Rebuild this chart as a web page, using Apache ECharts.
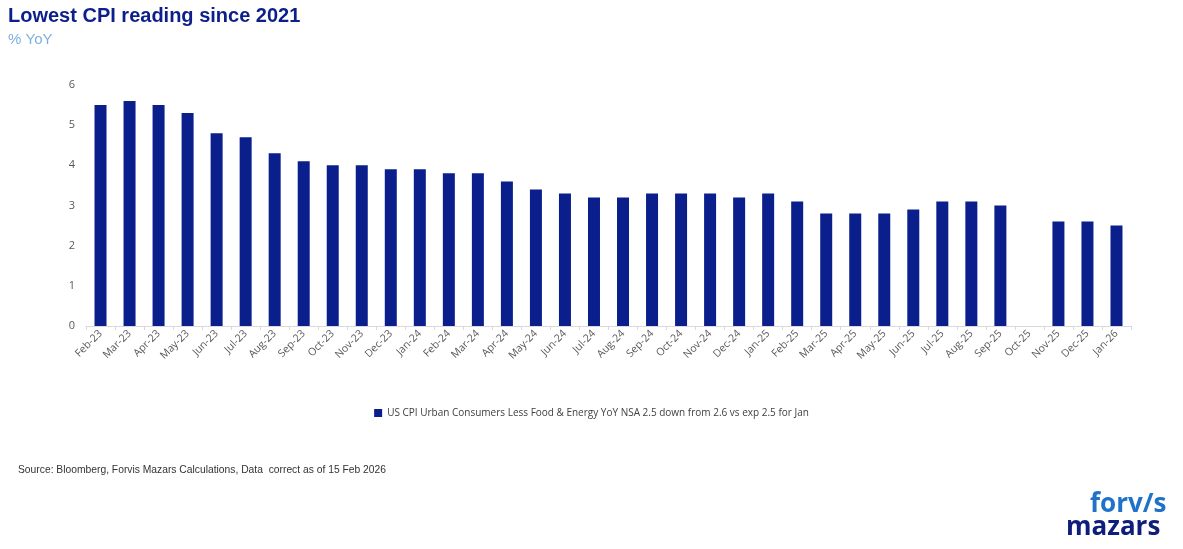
<!DOCTYPE html>
<html><head><meta charset="utf-8">
<script src="https://cdn.jsdelivr.net/npm/echarts@6/dist/echarts.min.js"></script>
<style>html,body{margin:0;padding:0;background:#fff}#c{width:1183px;height:549px}</style>
</head><body><div id="c"></div>
<script>
const categories = ["Feb-23","Mar-23","Apr-23","May-23","Jun-23","Jul-23","Aug-23","Sep-23","Oct-23","Nov-23","Dec-23","Jan-24","Feb-24","Mar-24","Apr-24","May-24","Jun-24","Jul-24","Aug-24","Sep-24","Oct-24","Nov-24","Dec-24","Jan-25","Feb-25","Mar-25","Apr-25","May-25","Jun-25","Jul-25","Aug-25","Sep-25","Oct-25","Nov-25","Dec-25","Jan-26"];
const cpiValues = [5.5,5.6,5.5,5.3,4.8,4.7,4.3,4.1,4.0,4.0,3.9,3.9,3.8,3.8,3.6,3.4,3.3,3.2,3.2,3.3,3.3,3.3,3.2,3.3,3.1,2.8,2.8,2.8,2.9,3.1,3.1,3.0,null,2.6,2.6,2.5];
const seriesName = "US CPI Urban Consumers Less Food & Energy YoY NSA 2.5 down from 2.6 vs exp 2.5 for Jan";
const titleText = "Lowest CPI reading since 2021";
const subtitleText = "% YoY";
const sourceText = "Source: Bloomberg, Forvis Mazars Calculations, Data  correct as of 15 Feb 2026";

const chart = echarts.init(document.getElementById('c'), null, {renderer:'canvas'});
chart.setOption({
  animation:false,
  backgroundColor:'#fff',
  title:{
    text:titleText, subtext:subtitleText, left:8, top:6, itemGap:6, padding:0,
    textStyle:{fontFamily:'Liberation Sans, Arial', fontWeight:'bold', fontSize:20, color:'#0c1f8a'},
    subtextStyle:{fontFamily:'Liberation Sans, Arial', fontSize:15, color:'#7fb0dd'}
  },
  grid:{left:86, right:52, top:85, bottom:223, containLabel:false},
  legend:{
    data:[seriesName], top:403, left:'center', itemWidth:8, itemHeight:8, icon:'rect',
    textStyle:{fontFamily:'Open Sans, Noto Sans', fontSize:10, color:'#404040'}, itemGap:4
  },
  xAxis:{
    type:'category', data:categories,
    axisLine:{lineStyle:{color:'#d9d9d9'}},
    axisTick:{show:true, alignWithLabel:false, length:4, lineStyle:{color:'#d9d9d9'}},
    axisLabel:{rotate:45, interval:0, fontFamily:'Open Sans, Noto Sans', fontSize:10.5, color:'#595959', margin:6}
  },
  yAxis:{
    type:'value', min:0, max:6, interval:1,
    splitLine:{show:false}, axisLine:{show:false}, axisTick:{show:false},
    axisLabel:{fontFamily:'Open Sans, Noto Sans', fontSize:11, color:'#595959', margin:11}
  },
  series:[{
    name:seriesName, type:'bar', data:cpiValues, barWidth:12,
    itemStyle:{color:'#0a1f8c'}
  }],
  graphic:[
    {type:'text', left:18, top:465, style:{text:sourceText, font:'10.3px "Liberation Sans", Arial', fill:'#333'}},
    {type:'text', left:1090, top:492, style:{text:'forv/s', font:'bold 26px "Open Sans", "Noto Sans"', fill:'#1f72c9'}},
    {type:'text', left:1066, top:515, style:{text:'mazars', font:'bold 26px "Open Sans", "Noto Sans"', fill:'#0e1e7a'}}
  ]
});
</script></body></html>
